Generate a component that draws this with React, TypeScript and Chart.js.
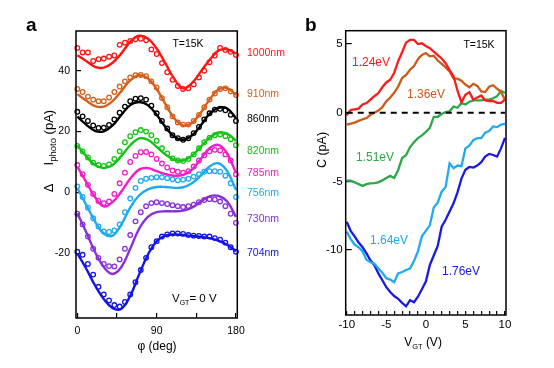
import React, { useEffect, useRef } from 'react';
import { Chart, registerables } from 'chart.js';
Chart.register(...registerables);

const FONT = '"Liberation Sans", Arial, Helvetica, sans-serif';

// ---------- Panel a data ----------
const phiFit = [0, 10, 20, 30, 40, 50, 60, 70, 80, 90, 100, 110, 120, 130, 140, 150, 160, 170, 180];
const phiPts = [0, 6, 12, 18, 24, 30, 36, 42, 48, 54, 60, 66, 72, 78, 84, 90, 96, 102, 108, 114, 120, 126, 132, 138, 144, 150, 156, 162, 168, 174, 180];
const phiTicks = [0, 45, 90, 135, 180];
const phiTickLabels = ['0', '', '90', '', '180'];
const iTicks = [-20, 0, 20, 40];
const wavelengths = ['1000nm', '910nm', '860nm', '820nm', '785nm', '756nm', '730nm', '704nm'];

const fit1000 = [45.1, 43.2, 41.3, 41.0, 42.6, 45.7, 49.5, 51.5, 50.6, 47.3, 42.4, 37.3, 34.2, 35.9, 39.7, 43.5, 46.6, 47.0, 45.7];
const fit910 = [32.3, 30.2, 28.4, 28.2, 30.0, 33.3, 36.8, 38.5, 37.5, 34.0, 29.0, 24.3, 22.0, 22.8, 26.2, 30.5, 33.8, 34.3, 32.0];
const fit860 = [24.9, 22.3, 20.2, 20.1, 22.0, 25.5, 28.7, 29.7, 28.7, 25.5, 21.5, 18.3, 17.3, 18.7, 22.0, 25.8, 27.8, 27.6, 24.4];
const fit820 = [15.5, 12.0, 9.0, 8.0, 9.0, 12.0, 15.5, 17.8, 17.3, 15.0, 12.5, 10.8, 10.5, 12.0, 15.0, 18.0, 19.7, 19.3, 17.0];
const fit785 = [8.5, 3.5, -1.5, -4.6, -3.2, 0.3, 4.5, 7.5, 8.0, 7.0, 6.0, 5.5, 5.8, 7.5, 11.0, 14.5, 15.6, 12.8, 6.4];
const fit756 = [1.4, -4.0, -9.5, -13.5, -14.2, -10.5, -5.0, -1.0, 1.0, 1.8, 1.8, 1.5, 1.7, 3.0, 5.5, 8.5, 9.6, 7.0, 0.8];
const fit730 = [-6.8, -13.0, -19.5, -24.5, -26.8, -24.5, -18.5, -12.0, -8.0, -6.5, -6.2, -6.2, -6.0, -5.0, -3.0, -1.3, -1.1, -3.0, -8.0];
const fit704 = [-20.0, -25.0, -30.5, -35.0, -38.0, -38.2, -34.0, -27.0, -20.5, -16.0, -14.2, -13.8, -14.0, -14.3, -14.6, -15.0, -15.8, -17.2, -19.3];

const pts1000 = [47.5, 46, 46, 43.2, 43.8, 44, 44.6, 45, 48.5, 49.2, 49.8, 50.3, 50.5, 50, 47, 45.5, 42.5, 39.5, 37, 35, 34, 34.2, 35.5, 37.8, 40, 42.8, 45, 47.5, 46.8, 46.2, 45.2];
const pts910 = [34, 33, 31.5, 30.5, 30, 30, 31.2, 33, 34.8, 36.5, 37.8, 38.5, 38.6, 38.2, 36.5, 34.5, 31, 28, 25, 23, 22.3, 22.3, 23.5, 25.5, 28, 30.5, 32.5, 34, 34.2, 33.2, 32];
const pts860 = [26.5, 25, 23.5, 22, 21.2, 21.3, 22.2, 24, 26.2, 28.2, 30, 30.8, 31, 30.5, 28.5, 26, 23.5, 21, 18.8, 17.8, 17.3, 17.8, 19.5, 21.5, 24, 26, 27.2, 27.5, 27, 25.5, 23.5];
const pts820 = [15.3, 13.5, 11.5, 9.8, 9, 8.7, 9.2, 11, 13.5, 16.5, 18.5, 19.8, 20.5, 20, 18.8, 17, 14.5, 12.8, 11.2, 10.5, 10.3, 11, 12.5, 14.5, 16.5, 18, 18.8, 19, 18.5, 17.5, 15.5];
const pts785 = [9, 6, 2.5, -0.5, -2.8, -3.5, -3, -0.5, 3, 6.5, 10, 12, 13.2, 13.3, 12.5, 11, 9.5, 8.2, 7.2, 6.8, 6.5, 7, 8.5, 10.5, 12.2, 13.5, 14, 13.8, 12.5, 10.5, 6];
const pts756 = [2, -1.5, -5, -8.5, -11.2, -12.8, -13, -12.5, -10.5, -6.5, -2, 1.5, 3.8, 4.5, 4.8, 5, 5, 4.7, 4.3, 4, 4.2, 4.5, 5.2, 6, 6.8, 7, 7, 6.8, 5.5, 3, -1.5];
const pts730 = [-7, -10.5, -14.5, -18.5, -21.5, -23.5, -24.2, -24.3, -22, -18.5, -14, -9.5, -6.5, -4.5, -3.5, -3.2, -3.5, -3.8, -4.2, -4.5, -4.8, -4.5, -4, -3.2, -2.5, -2.2, -2.3, -3, -4.5, -7, -10];
const pts704 = [-19.5, -20.5, -23.5, -27, -31, -33.5, -35.5, -37, -37.5, -36, -33.5, -29.5, -25.5, -21.5, -18, -16, -14.5, -13.8, -13.5, -13.5, -13.6, -14, -14.2, -14.3, -14.5, -14.5, -15, -15.5, -16.5, -18, -19.5];

// ---------- Panel b data ----------
const vgt = [-10, -9.5, -9, -8.5, -8, -7.5, -7, -6.5, -6, -5.5, -5, -4.5, -4, -3.5, -3, -2.5, -2, -1.5, -1, -0.5, 0, 0.5, 1, 1.5, 2, 2.5, 3, 3.5, 4, 4.5, 5, 5.5, 6, 6.5, 7, 7.5, 8, 8.5, 9, 9.5, 10];
const vTicks = [-10, -9, -8, -7, -6, -5, -4, -3, -2, -1, 0, 1, 2, 3, 4, 5, 6, 7, 8, 9, 10];
const vLabeled = [-10, -5, 0, 5, 10];
const cTicks = [-10, -5, 0, 5];
const energies = ['1.24eV', '1.36eV', '1.51eV', '1.64eV', '1.76eV'];

const c124 = [-0.2, 0.2, 0.25, 0.3, 0.6, 0.7, 0.95, 1.2, 1.43, 1.85, 2.2, 2.4, 2.9, 3.75, 4.4, 5.1, 5.3, 5.3, 5.0, 5.05, 4.85, 4.7, 4.45, 4.2, 3.95, 3.6, 3.1, 2.65, 1.6, 0.75, 1.3, 1.5, 0.95, 1.1, 1.25, 0.9, 0.85, 0.85, 0.72, 0.72, 0.95];
const c136 = [-0.87, -0.8, -0.72, -0.6, -0.48, -0.39, -0.15, 0.0, 0.15, 0.4, 0.83, 1.1, 1.45, 1.9, 2.52, 2.75, 3.13, 3.4, 3.9, 4.2, 4.34, 4.1, 4.15, 3.8, 3.55, 3.3, 3.0, 2.5, 2.48, 2.33, 2.05, 1.85, 2.1, 1.95, 1.55, 1.5, 1.9, 2.0, 1.75, 1.5, 0.95];
const c151 = [-4.95, -4.95, -5.07, -5.2, -5.33, -5.2, -5.15, -5.13, -5.07, -4.93, -4.75, -4.6, -4.75, -4.17, -3.3, -3.1, -2.5, -2.15, -1.85, -1.65, -1.4, -1.1, -0.3, -0.3, -0.1, 0.05, 0.1, 0.45, 0.36, 0.7, 0.6, 0.8, 0.9, 0.9, 0.9, 0.95, 0.95, 1.05, 1.2, 1.6, 1.43];
const c164 = [-8.66, -9.2, -9.6, -9.8, -10.1, -10.7, -10.88, -11.0, -11.35, -11.65, -12.05, -12.15, -12.35, -11.7, -11.6, -11.45, -11.35, -10.8, -10.1, -9.0, -8.6, -8.2, -6.9, -6.55, -5.75, -5.4, -3.7, -4.05, -3.85, -3.9, -2.6, -2.4, -2.0, -1.85, -1.85, -1.45, -1.33, -1.0, -1.05, -0.86, -0.82];
const c176 = [-7.94, -8.6, -9.0, -9.45, -9.8, -10.25, -10.75, -11.1, -11.7, -12.2, -12.7, -13.05, -13.35, -13.55, -13.85, -14.1, -13.65, -13.8, -13.4, -12.85, -12.3, -11.1, -10.4, -9.7, -8.3, -7.8, -7.2, -6.6, -5.8, -4.8, -4.15, -3.95, -4.0, -3.85, -3.6, -3.2, -3.0, -3.08, -3.2, -2.6, -1.84];
const zeroLine = [0, 0];
const zeroLineX = [-10, 10];

// ---------- styles / annotation layout ----------
const colorsA = ['#ff1414', '#d4601c', '#000000', '#14c414', '#f01ec8', '#1eaaf0', '#8a2fd8', '#1414e6'];
const colorsB = ['#ff1a1a', '#cc5a1a', '#2ea64a', '#20aaf0', '#1a1ae0'];
const nmLabelY = [45.9, 32.4, 24.2, 13.7, 6.5, -0.1, -8.6, -19.8];
const eVLabelPos = [[72, 61], [127, 93], [76, 156], [90, 239], [162, 270]];
const CANVAS_A_W = 300;

type Part = { t: string; size: number; dy?: number; bold?: boolean };
function drawRich(ctx: CanvasRenderingContext2D, parts: Part[], x: number, y: number, align: 'left' | 'center', rotate = false) {
  ctx.save();
  ctx.translate(x, y);
  if (rotate) ctx.rotate(-Math.PI / 2);
  ctx.textBaseline = 'alphabetic';
  ctx.textAlign = 'left';
  const widths = parts.map((p) => {
    ctx.font = `${p.bold ? 'bold ' : ''}${p.size}px ${FONT}`;
    return ctx.measureText(p.t).width;
  });
  const total = widths.reduce((a, b) => a + b, 0);
  let cx = align === 'center' ? -total / 2 : 0;
  parts.forEach((p, i) => {
    ctx.font = `${p.bold ? 'bold ' : ''}${p.size}px ${FONT}`;
    ctx.fillText(p.t, cx, p.dy || 0);
    cx += widths[i];
  });
  ctx.restore();
}

function frame(chart: any) {
  const { ctx, chartArea: ca } = chart;
  ctx.save();
  ctx.strokeStyle = '#000';
  ctx.lineWidth = 1.5;
  ctx.strokeRect(ca.left, ca.top, ca.right - ca.left, ca.bottom - ca.top);
  ctx.restore();
}

const panelAPlugin = {
  id: 'panelA',
  afterDraw(chart: any) {
    frame(chart);
    const { ctx, scales } = chart;
    ctx.save();
    ctx.fillStyle = '#000';
    drawRich(ctx, [{ t: 'a', size: 19, bold: true }], 26, 31, 'left');
    drawRich(ctx, [{ t: 'T=15K', size: 10.5 }], 188, 47, 'center');
    drawRich(ctx, [{ t: 'V', size: 11.5 }, { t: 'GT', size: 7, dy: 3 }, { t: '= 0 V', size: 11.5 }], 172, 302, 'left');
    drawRich(ctx, [{ t: 'φ (deg)', size: 12 }], 157, 350, 'center');
    drawRich(ctx, [{ t: 'Δ', size: 13 }, { t: '     ', size: 13 }, { t: 'I', size: 13 }, { t: 'photo', size: 9.5, dy: 3 }, { t: ' (pA)', size: 13 }], 52.5, 151, 'center', true);
    ctx.textBaseline = 'middle';
    ctx.textAlign = 'left';
    ctx.font = `10.5px ${FONT}`;
    wavelengths.forEach((w, i) => {
      ctx.fillStyle = colorsA[i];
      ctx.fillText(w, 247, scales.y.getPixelForValue(nmLabelY[i]));
    });
    ctx.restore();
  },
};

const panelBPlugin = {
  id: 'panelB',
  afterDraw(chart: any) {
    frame(chart);
    const { ctx } = chart;
    ctx.save();
    ctx.fillStyle = '#000';
    drawRich(ctx, [{ t: 'b', size: 19, bold: true }], 25, 31, 'left');
    drawRich(ctx, [{ t: 'T=15K', size: 10.5 }], 199, 48, 'center');
    drawRich(ctx, [{ t: 'V', size: 12 }, { t: 'GT', size: 7.5, dy: 3 }, { t: ' (V)', size: 12 }], 143, 346, 'center');
    drawRich(ctx, [{ t: 'C (pA)', size: 12.5 }], 45.5, 150, 'center', true);
    energies.forEach((e, i) => {
      ctx.fillStyle = colorsB[i];
      drawRich(ctx, [{ t: e, size: 12 }], eVLabelPos[i][0], eVLabelPos[i][1] + 4.5, 'left');
    });
    ctx.restore();
  },
};

export default function App() {
  const refA = useRef<HTMLCanvasElement>(null);
  const refB = useRef<HTMLCanvasElement>(null);

  useEffect(() => {
    document.body.style.margin = '0';
    Chart.defaults.font.family = FONT;
    Chart.defaults.color = '#000';

    const fitsA = [fit1000, fit910, fit860, fit820, fit785, fit756, fit730, fit704];
    const ptsA = [pts1000, pts910, pts860, pts820, pts785, pts756, pts730, pts704];
    const datasetsA: any[] = [];
    ptsA.forEach((s, i) => {
      datasetsA.push({
        data: phiPts.map((x, j) => ({ x, y: s[j] })),
        showLine: false,
        pointRadius: 2.3,
        pointBorderWidth: 1.3,
        pointBorderColor: colorsA[i],
        pointBackgroundColor: 'rgba(0,0,0,0)',
        clip: false,
      });
    });
    fitsA.forEach((s, i) => {
      datasetsA.push({
        data: phiFit.map((x, j) => ({ x, y: s[j] })),
        showLine: true,
        borderColor: colorsA[i],
        borderWidth: 2.4,
        pointRadius: 0,
        tension: 0.4,
        clip: false,
      });
    });

    const chartA = new Chart(refA.current!, {
      type: 'scatter',
      data: { datasets: datasetsA },
      plugins: [panelAPlugin],
      options: {
        responsive: false,
        animation: false,
        events: [],
        layout: { padding: { left: 0, right: CANVAS_A_W - 237.3, top: 31, bottom: 0 } },
        plugins: { legend: { display: false }, tooltip: { enabled: false } },
        scales: {
          x: {
            type: 'linear',
            min: -1.5,
            max: 181.5,
            afterFit: (s: any) => { s.height = 368 - 318; s.paddingLeft = 0; s.paddingRight = 0; },
            afterBuildTicks: (s: any) => { s.ticks = phiTicks.map((v) => ({ value: v })); },
            ticks: {
              autoSkip: false, maxRotation: 0, padding: 12, color: '#000',
              font: { size: 10.5, family: FONT },
              callback: (v: any) => phiTickLabels[phiTicks.indexOf(Number(v))] ?? '',
            },
            grid: { drawOnChartArea: false, drawTicks: true, tickLength: -5, color: '#000', lineWidth: 1.2 },
            border: { display: false },
          },
          y: {
            type: 'linear',
            min: -41.26,
            max: 53.05,
            afterFit: (s: any) => { s.width = 76; s.paddingTop = 0; s.paddingBottom = 0; },
            afterBuildTicks: (s: any) => { s.ticks = iTicks.map((v) => ({ value: v })); },
            ticks: { autoSkip: false, padding: 11, color: '#000', font: { size: 10.5, family: FONT } },
            grid: { drawOnChartArea: false, drawTicks: true, tickLength: -5, color: '#000', lineWidth: 1.2 },
            border: { display: false },
          },
        },
      } as any,
    });

    const seriesB = [c124, c136, c151, c164, c176];
    const datasetsB: any[] = [
      {
        data: zeroLineX.map((x, j) => ({ x, y: zeroLine[j] })),
        showLine: true,
        borderColor: '#000',
        borderWidth: 2,
        borderDash: [6, 5],
        pointRadius: 0,
        clip: false,
      },
    ];
    seriesB.forEach((s, i) => {
      datasetsB.push({
        data: vgt.map((x, j) => ({ x, y: s[j] })),
        showLine: true,
        borderColor: colorsB[i],
        borderWidth: 2.3,
        pointRadius: 0,
        tension: 0,
        clip: false,
      });
    });

    const chartB = new Chart(refB.current!, {
      type: 'scatter',
      data: { datasets: datasetsB },
      plugins: [panelBPlugin],
      options: {
        responsive: false,
        animation: false,
        events: [],
        layout: { padding: { left: 0, right: 274 - 226, top: 30.7, bottom: 0 } },
        plugins: { legend: { display: false }, tooltip: { enabled: false } },
        scales: {
          x: {
            type: 'linear',
            min: -10.13,
            max: 10.13,
            afterFit: (s: any) => { s.height = 368 - 315; s.paddingLeft = 0; s.paddingRight = 0; },
            afterBuildTicks: (s: any) => { s.ticks = vTicks.map((v) => ({ value: v })); },
            ticks: {
              autoSkip: false, maxRotation: 0, padding: 7, color: '#000',
              font: { size: 11.5, family: FONT },
              callback: (v: any) => (vLabeled.includes(Number(v)) ? String(v) : ''),
            },
            grid: { drawOnChartArea: false, drawTicks: true, tickLength: -4, color: '#000', lineWidth: 1.2 },
            border: { display: false },
          },
          y: {
            type: 'linear',
            min: -14.73,
            max: 5.97,
            afterFit: (s: any) => { s.width = 65.7; s.paddingTop = 0; s.paddingBottom = 0; },
            afterBuildTicks: (s: any) => { s.ticks = cTicks.map((v) => ({ value: v })); },
            ticks: { autoSkip: false, padding: 9, color: '#000', font: { size: 11.5, family: FONT } },
            grid: { drawOnChartArea: false, drawTicks: true, tickLength: -6, color: '#000', lineWidth: 1.2 },
            border: { display: false },
          },
        },
      } as any,
    });

    return () => {
      chartA.destroy();
      chartB.destroy();
    };
  }, []);

  return (
    <div style={{ position: 'relative', width: 554, height: 368, background: '#fff', overflow: 'hidden' }}>
      <canvas ref={refA} width={CANVAS_A_W} height={368} style={{ position: 'absolute', left: 0, top: 0 }} />
      <canvas ref={refB} width={274} height={368} style={{ position: 'absolute', left: 280, top: 0 }} />
    </div>
  );
}
